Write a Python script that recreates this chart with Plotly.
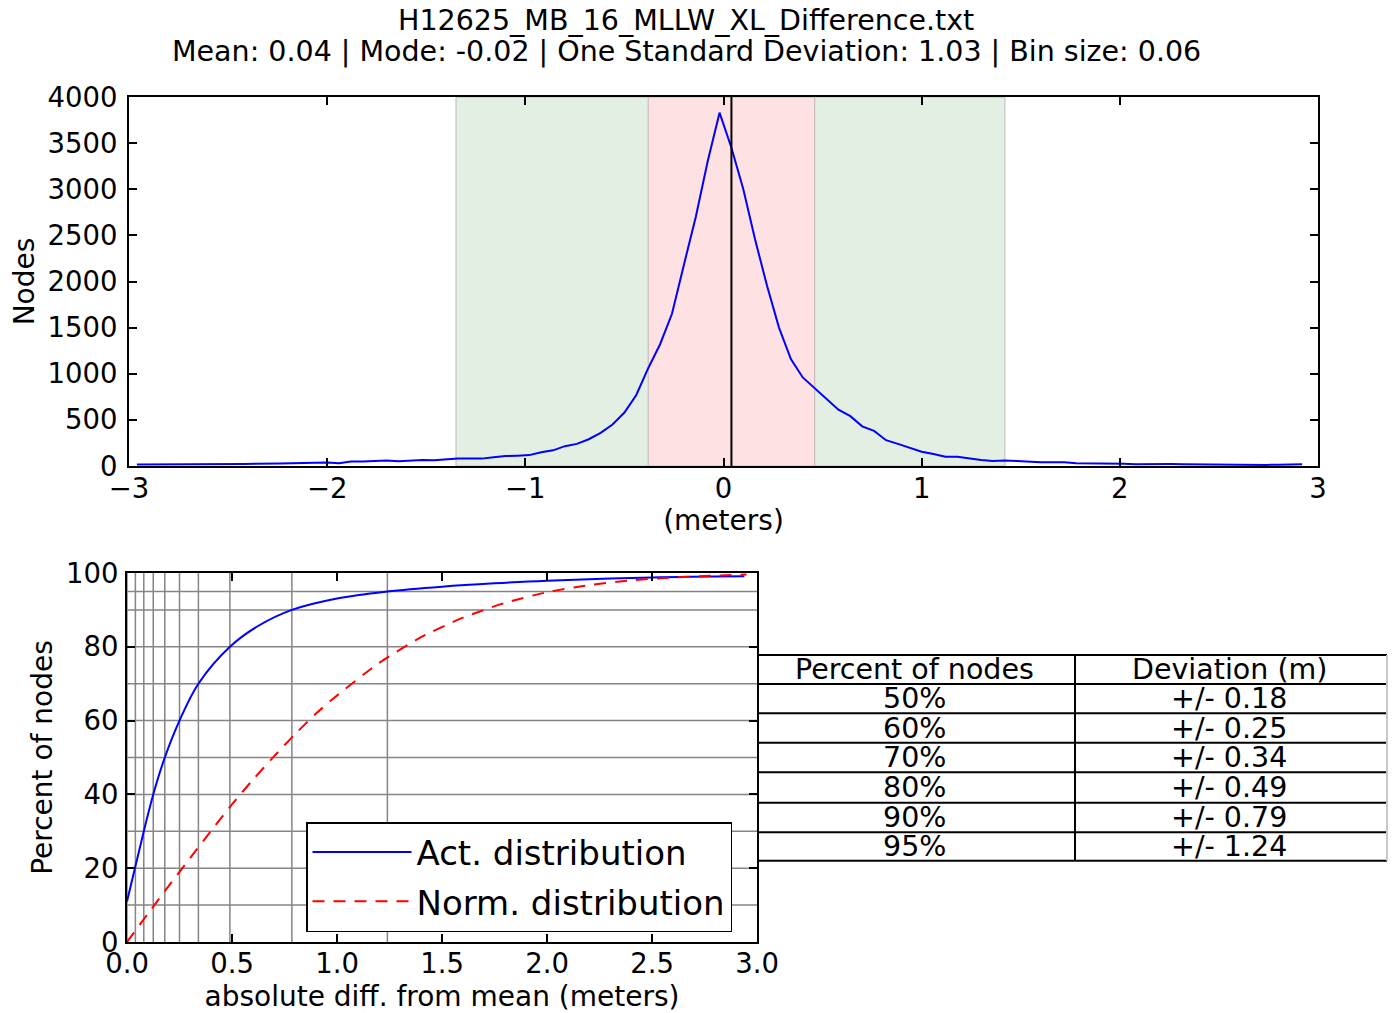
import plotly.graph_objects as go

W, H = 1399, 1013

# ---------------- data ----------------
title_file = "H12625_MB_16_MLLW_XL_Difference.txt"
mean_val = 0.04
mode_val = -0.02
std_val = 1.03
bin_size = 0.06
first_bin = -2.96

# histogram line (node counts per bin)
hist_counts = [
    15, 15, 16, 17, 18, 18, 22, 22, 20, 23,
    25, 24, 28, 30, 32, 33, 38, 30, 50, 48,
    52, 60, 52, 62, 66, 62, 75, 82, 80, 80,
    95, 108, 112, 118, 150, 170, 215, 240, 290, 360,
    450, 580, 770, 1060, 1320, 1650, 2180, 2700, 3300, 3830,
    3450, 3000, 2450, 1950, 1500, 1160, 960, 840, 720, 610,
    540, 430, 380, 280, 240, 195, 155, 130, 100, 100,
    80, 65, 55, 60, 55, 45, 42, 40, 40, 30,
    30, 28, 28, 25, 20, 22, 25, 22, 20, 18,
    18, 17, 15, 15, 14, 12, 14, 15, 18,
]
bin_centers = [round(first_bin + i * bin_size, 2) for i in range(len(hist_counts))]

inner_band = [-0.38, 0.46]
outer_band = [-1.35, 1.42]

# cumulative curves
act_dev = [0.0, 0.04, 0.08, 0.125, 0.18, 0.25, 0.34, 0.49, 0.62, 0.785, 1.0, 1.24,
           1.5, 1.75, 2.0, 2.5, 2.94]
act_pct = [11, 20.5, 30, 40, 50, 60, 70, 80, 85.5, 90, 93.1, 95,
           96.3, 97.2, 97.9, 98.8, 99.1]
norm_dev = [0.0, 0.1, 0.2, 0.3, 0.4, 0.5, 0.6, 0.7, 0.8, 0.9, 1.0, 1.2, 1.4,
            1.6, 1.8, 2.0, 2.2, 2.4, 2.6, 2.8, 2.95]
norm_pct = [0.0, 7.7, 15.3, 22.7, 30.1, 37.3, 44.0, 50.3, 56.3, 61.9, 66.8, 75.6, 82.6,
            87.9, 91.9, 94.8, 96.7, 98.0, 98.8, 99.3, 99.6]

# percentile grid
pct_levels = [10, 20, 30, 40, 50, 60, 70, 80, 90, 95]
pct_dev = [0.0, 0.04, 0.08, 0.125, 0.18, 0.25, 0.34, 0.49, 0.785, 1.24]

# table
table_header = ["Percent of nodes", "Deviation (m)"]
table_pct = ["50%", "60%", "70%", "80%", "90%", "95%"]
table_dev = ["+/- 0.18", "+/- 0.25", "+/- 0.34", "+/- 0.49", "+/- 0.79", "+/- 1.24"]

# ---------------- helpers (screen pixel -> paper fraction) ----------------
def px(x):
    return x / W

def py(y):
    return 1 - y / H

FONT = "DejaVu Sans"
TICK_SIZE = 27.5
LABEL_SIZE = 28
TITLE_SIZE = 28.5

fig = go.Figure()

fig.add_trace(go.Scatter(
    x=bin_centers, y=hist_counts, mode="lines",
    line=dict(color="#0000ff", width=2), showlegend=False,
    xaxis="x", yaxis="y", name="Nodes"))

fig.add_trace(go.Scatter(
    x=act_dev, y=act_pct, mode="lines", name="Act. distribution", legendgroup="a",
    line=dict(color="#0000ff", width=2, shape="spline", smoothing=1.0),
    xaxis="x2", yaxis="y2"))
fig.add_trace(go.Scatter(
    x=norm_dev, y=norm_pct, mode="lines", name="Norm. distribution", legendgroup="b",
    line=dict(color="#ff0000", width=2, dash="12px,9px", shape="spline", smoothing=0.6),
    xaxis="x2", yaxis="y2"))

shapes = []
# bands
shapes.append(dict(type="rect", xref="x", yref="y domain", x0=outer_band[0], x1=outer_band[1],
                   y0=0, y1=1, fillcolor="#e3efe3", line=dict(color="#b8bdb8", width=1), layer="below"))
shapes.append(dict(type="rect", xref="x", yref="y domain", x0=inner_band[0], x1=inner_band[1],
                   y0=0, y1=1, fillcolor="#fee1e3", line=dict(color="#c4b4b5", width=1), layer="below"))
# mean line
shapes.append(dict(type="line", xref="x", yref="y domain", x0=mean_val, x1=mean_val, y0=0, y1=1,
                   line=dict(color="black", width=2), layer="above"))
# grid of bottom chart
for d in pct_dev:
    shapes.append(dict(type="line", xref="x2", yref="y2 domain", x0=d, x1=d, y0=0, y1=1,
                       line=dict(color="#858585", width=1.5), layer="below"))
for p in pct_levels:
    shapes.append(dict(type="line", xref="x2 domain", yref="y2", x0=0, x1=1, y0=p, y1=p,
                       line=dict(color="#858585", width=1.5), layer="below"))

# table
t_left, t_mid, t_right = 758, 1075, 1387
row_y = [655, 684, 713.3, 742.7, 772.3, 802.7, 832.3, 860.7]
for y in row_y:
    shapes.append(dict(type="line", xref="paper", yref="paper", x0=px(t_left), x1=px(t_right),
                       y0=py(y), y1=py(y), line=dict(color="black", width=2)))
for x, col in [(t_left, "black"), (t_mid, "black"), (t_right, "#c8c8c8")]:
    shapes.append(dict(type="line", xref="paper", yref="paper", x0=px(x), x1=px(x),
                       y0=py(row_y[0]), y1=py(row_y[-1]), line=dict(color=col, width=2)))

annotations = []
col_centers = [(t_left + t_mid) / 2 - 2, (t_mid + t_right) / 2 - 2]
rows = [table_header] + [[a, b] for a, b in zip(table_pct, table_dev)]
for i, r in enumerate(rows):
    yc = (row_y[i] + row_y[i + 1]) / 2
    for j, txt in enumerate(r):
        annotations.append(dict(text=txt, xref="paper", yref="paper", x=px(col_centers[j]), y=py(yc),
                                xanchor="center", yanchor="middle", showarrow=False,
                                font=dict(family=FONT, size=TITLE_SIZE, color="black")))

# title lines
annotations.append(dict(text=title_file, xref="paper", yref="paper", x=px(686), y=py(21),
                        xanchor="center", yanchor="middle", showarrow=False,
                        font=dict(family=FONT, size=TITLE_SIZE, color="black")))
annotations.append(dict(
    text=f"Mean: {mean_val:.2f} | Mode: {mode_val:.2f} | One Standard Deviation: {std_val:.2f} | Bin size: {bin_size:.2f}",
    xref="paper", yref="paper", x=px(686), y=py(52), xanchor="center", yanchor="middle",
    showarrow=False, font=dict(family=FONT, size=TITLE_SIZE, color="black")))

axis_common = dict(showline=True, linecolor="black", linewidth=2, mirror="allticks",
                   ticks="inside", ticklen=8, tickwidth=1.5, tickcolor="black",
                   showgrid=False, zeroline=False, automargin=False,
                   tickfont=dict(family=FONT, size=TICK_SIZE, color="black"))

fig.update_layout(
    width=W, height=H, autosize=False,
    margin=dict(l=0, r=0, t=0, b=0),
    paper_bgcolor="white", plot_bgcolor="white",
    font=dict(family=FONT, color="black"),
    xaxis=dict(domain=[px(129), px(1318)], range=[-3, 3], tickvals=[-3, -2, -1, 0, 1, 2, 3],
               anchor="y", ticklabelstandoff=-3,
               title=dict(text="(meters)", font=dict(family=FONT, size=LABEL_SIZE), standoff=4),
               **axis_common),
    yaxis=dict(domain=[py(466), py(97)], range=[0, 4000], dtick=500, anchor="x",
               ticklabelstandoff=4,
               title=dict(text="Nodes", font=dict(family=FONT, size=LABEL_SIZE), standoff=5),
               **axis_common),
    xaxis2=dict(domain=[px(127), px(757)], range=[0, 3], dtick=0.5, tickformat=".1f", anchor="y2",
                ticklabelstandoff=-4,
                title=dict(text="absolute diff. from mean (meters)", font=dict(family=FONT, size=LABEL_SIZE), standoff=8),
                **axis_common),
    yaxis2=dict(domain=[py(942), py(573)], range=[0, 100], dtick=20, anchor="x2",
                ticklabelstandoff=1,
                title=dict(text="Percent of nodes", font=dict(family=FONT, size=LABEL_SIZE), standoff=5),
                **axis_common),
    legend=dict(x=px(306), y=py(822), xanchor="left", yanchor="top",
                bgcolor="white", bordercolor="black", borderwidth=1.5, tracegroupgap=2,
                font=dict(family=FONT, size=34, color="black"), itemwidth=99),
    shapes=shapes, annotations=annotations,
)

fig.write_html("out.html", config={"displayModeBar": False},
               post_script="document.body.style.margin='0px';document.body.style.overflow='hidden';")
